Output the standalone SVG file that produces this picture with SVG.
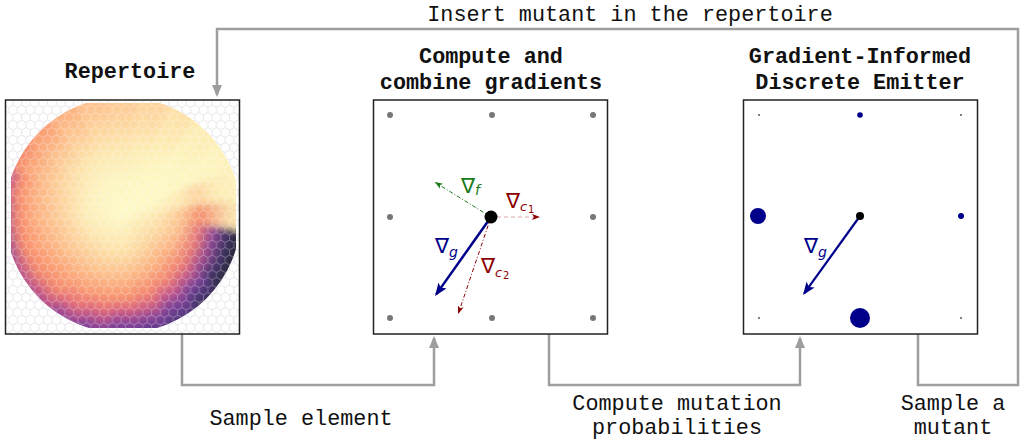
<svg xmlns="http://www.w3.org/2000/svg" width="1020" height="440" viewBox="0 0 1020 440">
<style>
.t{font-family:"Liberation Mono","DejaVu Sans Mono",monospace;font-size:21.8px;fill:#111;text-anchor:middle}
.b{font-weight:bold}
.box{fill:none;stroke:#222;stroke-width:1.5}
.conn{fill:none;stroke:#9e9e9e;stroke-width:2.5}
.gd{fill:#777}
.m{font-family:"DejaVu Sans",sans-serif}
.sub{font-family:"DejaVu Sans",sans-serif;font-style:italic}
</style>
<defs>
<marker id="ga" markerUnits="userSpaceOnUse" markerWidth="12" markerHeight="10" viewBox="0 0 12 10" refX="10" refY="5" orient="auto"><path d="M0,0 L12,5 L0,10 z" fill="#9e9e9e"/></marker>
<marker id="ba" markerUnits="userSpaceOnUse" markerWidth="13" markerHeight="10" viewBox="0 0 13 10" refX="11" refY="5" orient="auto"><path d="M0,0 L13,5 L0,10 L3,5 z" fill="#00008b"/></marker>
<marker id="na" markerUnits="userSpaceOnUse" markerWidth="8" markerHeight="6" viewBox="0 0 8 6" refX="7" refY="3" orient="auto"><path d="M0,0 L8,3 L0,6 L2,3 z" fill="#1a7a1a"/></marker>
<marker id="ra" markerUnits="userSpaceOnUse" markerWidth="8" markerHeight="6" viewBox="0 0 8 6" refX="7" refY="3" orient="auto"><path d="M0,0 L8,3 L0,6 L2,3 z" fill="#8b0000"/></marker>
<filter id="soft" x="-10%" y="-10%" width="120%" height="120%"><feGaussianBlur stdDeviation="3.5"/></filter>
<pattern id="hexG" patternUnits="userSpaceOnUse" width="8.66" height="15"><path d="M4.33,0 L8.66,2.5 L8.66,7.5 L4.33,10 L0,7.5 L0,2.5 Z M4.33,10 V15" fill="none" stroke="#e0e0e6" stroke-width="0.8"/></pattern>
<pattern id="hexW" patternUnits="userSpaceOnUse" width="8.66" height="15"><path d="M4.33,0 L8.66,2.5 L8.66,7.5 L4.33,10 L0,7.5 L0,2.5 Z M4.33,10 V15" fill="none" stroke="#ffffff" stroke-opacity="0.28" stroke-width="1"/></pattern>
<clipPath id="cBox"><rect x="11" y="103" width="225" height="225"/></clipPath>
<clipPath id="cDisc"><circle cx="123" cy="215" r="118"/></clipPath>
<radialGradient id="g0" gradientUnits="userSpaceOnUse" cx="123" cy="215" r="118"><stop offset="0" stop-color="#fdf9c8"/><stop offset=".3" stop-color="#fde6b0"/><stop offset=".5" stop-color="#fcc592"/><stop offset=".65" stop-color="#f4906f"/><stop offset=".75" stop-color="#f6ad87"/><stop offset=".9" stop-color="#f9dca8"/><stop offset="1" stop-color="#fbe6b2"/></radialGradient>
<radialGradient id="g1" gradientUnits="userSpaceOnUse" cx="123" cy="215" r="118"><stop offset="0" stop-color="#fdf9c8"/><stop offset=".3" stop-color="#fde0aa"/><stop offset=".5" stop-color="#fbbd8b"/><stop offset=".65" stop-color="#e87878"/><stop offset=".78" stop-color="#8f4896"/><stop offset=".9" stop-color="#3e3264"/><stop offset="1" stop-color="#2b2838"/></radialGradient>
<radialGradient id="g2" gradientUnits="userSpaceOnUse" cx="123" cy="215" r="118"><stop offset="0" stop-color="#fdf9c8"/><stop offset=".3" stop-color="#fcdba4"/><stop offset=".5" stop-color="#fbb385"/><stop offset=".65" stop-color="#ea7b75"/><stop offset=".77" stop-color="#a04d91"/><stop offset=".9" stop-color="#44346c"/><stop offset="1" stop-color="#2d2a3e"/></radialGradient>
<radialGradient id="g3" gradientUnits="userSpaceOnUse" cx="123" cy="215" r="118"><stop offset="0" stop-color="#fdf9c8"/><stop offset=".3" stop-color="#fcd7a0"/><stop offset=".5" stop-color="#fbad80"/><stop offset=".65" stop-color="#ef8173"/><stop offset=".75" stop-color="#c2598a"/><stop offset=".85" stop-color="#7a4398"/><stop offset=".95" stop-color="#4a3575"/><stop offset="1" stop-color="#3d3058"/></radialGradient>
<radialGradient id="g4" gradientUnits="userSpaceOnUse" cx="123" cy="215" r="118"><stop offset="0" stop-color="#fdf9c8"/><stop offset=".3" stop-color="#fcd9a2"/><stop offset=".5" stop-color="#fbb383"/><stop offset=".66" stop-color="#f28571"/><stop offset=".77" stop-color="#c8598a"/><stop offset=".88" stop-color="#7e4399"/><stop offset="1" stop-color="#55387f"/></radialGradient>
<radialGradient id="g5" gradientUnits="userSpaceOnUse" cx="123" cy="215" r="118"><stop offset="0" stop-color="#fdf9c8"/><stop offset=".3" stop-color="#fddda7"/><stop offset=".5" stop-color="#fbb987"/><stop offset=".68" stop-color="#f58c70"/><stop offset=".8" stop-color="#d46182"/><stop offset=".9" stop-color="#8a4598"/><stop offset="1" stop-color="#60398c"/></radialGradient>
<radialGradient id="g6" gradientUnits="userSpaceOnUse" cx="123" cy="215" r="118"><stop offset="0" stop-color="#fdf9c8"/><stop offset=".3" stop-color="#fde3ad"/><stop offset=".5" stop-color="#fcc08d"/><stop offset=".7" stop-color="#f7956f"/><stop offset=".79" stop-color="#e2697b"/><stop offset=".87" stop-color="#a84d90"/><stop offset=".95" stop-color="#7a409a"/><stop offset="1" stop-color="#6a3c96"/></radialGradient>
<radialGradient id="g7" gradientUnits="userSpaceOnUse" cx="123" cy="215" r="118"><stop offset="0" stop-color="#fdf9c8"/><stop offset=".3" stop-color="#fde3ad"/><stop offset=".5" stop-color="#fcc490"/><stop offset=".7" stop-color="#f99a72"/><stop offset=".82" stop-color="#e66e7a"/><stop offset=".91" stop-color="#b0508e"/><stop offset="1" stop-color="#7a4099"/></radialGradient>
<radialGradient id="g8" gradientUnits="userSpaceOnUse" cx="123" cy="215" r="118"><stop offset="0" stop-color="#fdf9c8"/><stop offset=".3" stop-color="#fde4ae"/><stop offset=".5" stop-color="#fcc692"/><stop offset=".7" stop-color="#faa077"/><stop offset=".84" stop-color="#ec7577"/><stop offset=".94" stop-color="#b8538c"/><stop offset="1" stop-color="#8e4596"/></radialGradient>
<radialGradient id="g9" gradientUnits="userSpaceOnUse" cx="123" cy="215" r="118"><stop offset="0" stop-color="#fdf9c8"/><stop offset=".3" stop-color="#fde4ae"/><stop offset=".5" stop-color="#fcc794"/><stop offset=".7" stop-color="#fba478"/><stop offset=".84" stop-color="#f38a70"/><stop offset=".94" stop-color="#d0607f"/><stop offset="1" stop-color="#b04f8f"/></radialGradient>
<radialGradient id="g10" gradientUnits="userSpaceOnUse" cx="123" cy="215" r="118"><stop offset="0" stop-color="#fdf9c8"/><stop offset=".3" stop-color="#fde8b2"/><stop offset=".5" stop-color="#fdcb97"/><stop offset=".7" stop-color="#fca97b"/><stop offset=".86" stop-color="#f68c6e"/><stop offset="1" stop-color="#b8528d"/></radialGradient>
<radialGradient id="g11" gradientUnits="userSpaceOnUse" cx="123" cy="215" r="118"><stop offset="0" stop-color="#fdf9c8"/><stop offset=".3" stop-color="#fdebb6"/><stop offset=".5" stop-color="#fdcd99"/><stop offset=".72" stop-color="#fcad7f"/><stop offset=".88" stop-color="#f88d6d"/><stop offset="1" stop-color="#a54f90"/></radialGradient>
<radialGradient id="g12" gradientUnits="userSpaceOnUse" cx="123" cy="215" r="118"><stop offset="0" stop-color="#fdf9c8"/><stop offset=".3" stop-color="#fdeebb"/><stop offset=".53" stop-color="#fdd09c"/><stop offset=".75" stop-color="#fcaf80"/><stop offset=".89" stop-color="#f7896d"/><stop offset="1" stop-color="#a0508f"/></radialGradient>
<radialGradient id="g13" gradientUnits="userSpaceOnUse" cx="123" cy="215" r="118"><stop offset="0" stop-color="#fdf9c8"/><stop offset=".3" stop-color="#fdf0bd"/><stop offset=".53" stop-color="#fdd5a0"/><stop offset=".75" stop-color="#fcb585"/><stop offset=".9" stop-color="#f9906e"/><stop offset="1" stop-color="#c45a86"/></radialGradient>
<radialGradient id="g14" gradientUnits="userSpaceOnUse" cx="123" cy="215" r="118"><stop offset="0" stop-color="#fdf9c8"/><stop offset=".3" stop-color="#fdf2bf"/><stop offset=".55" stop-color="#fddaa4"/><stop offset=".75" stop-color="#fcbd8b"/><stop offset=".92" stop-color="#faa076"/><stop offset="1" stop-color="#f4896e"/></radialGradient>
<radialGradient id="g15" gradientUnits="userSpaceOnUse" cx="123" cy="215" r="118"><stop offset="0" stop-color="#fdf9c8"/><stop offset=".3" stop-color="#fdf3c0"/><stop offset=".55" stop-color="#fde0aa"/><stop offset=".75" stop-color="#fcc592"/><stop offset=".92" stop-color="#fba97c"/><stop offset="1" stop-color="#fa9d74"/></radialGradient>
<radialGradient id="g16" gradientUnits="userSpaceOnUse" cx="123" cy="215" r="118"><stop offset="0" stop-color="#fdf9c8"/><stop offset=".3" stop-color="#fdf4c1"/><stop offset=".55" stop-color="#fde5ae"/><stop offset=".75" stop-color="#fdcd98"/><stop offset="1" stop-color="#fcb080"/></radialGradient>
<radialGradient id="g17" gradientUnits="userSpaceOnUse" cx="123" cy="215" r="118"><stop offset="0" stop-color="#fdf9c8"/><stop offset=".3" stop-color="#fdf5c1"/><stop offset=".55" stop-color="#fde8b2"/><stop offset=".76" stop-color="#fdd49e"/><stop offset="1" stop-color="#fdc08e"/></radialGradient>
<radialGradient id="g18" gradientUnits="userSpaceOnUse" cx="123" cy="215" r="118"><stop offset="0" stop-color="#fdf9c8"/><stop offset=".3" stop-color="#fdf5c0"/><stop offset=".55" stop-color="#fde8b2"/><stop offset=".76" stop-color="#fdd7a0"/><stop offset=".95" stop-color="#fdca95"/></radialGradient>
<radialGradient id="g19" gradientUnits="userSpaceOnUse" cx="123" cy="215" r="118"><stop offset="0" stop-color="#fdf9c8"/><stop offset=".3" stop-color="#fdf6c2"/><stop offset=".55" stop-color="#fdedb6"/><stop offset=".76" stop-color="#fddea8"/><stop offset="1" stop-color="#fdd29d"/></radialGradient>
<radialGradient id="g20" gradientUnits="userSpaceOnUse" cx="123" cy="215" r="118"><stop offset="0" stop-color="#fdf9c8"/><stop offset=".3" stop-color="#fdf7c3"/><stop offset=".55" stop-color="#fdf2bb"/><stop offset=".76" stop-color="#fde8b1"/><stop offset="1" stop-color="#fde0a9"/></radialGradient>
<radialGradient id="g21" gradientUnits="userSpaceOnUse" cx="123" cy="215" r="118"><stop offset="0" stop-color="#fdf9c8"/><stop offset=".3" stop-color="#fdf8c4"/><stop offset=".55" stop-color="#fdf6c2"/><stop offset=".76" stop-color="#fdf1ba"/><stop offset="1" stop-color="#fdecb5"/></radialGradient>
<radialGradient id="g22" gradientUnits="userSpaceOnUse" cx="123" cy="215" r="118"><stop offset="0" stop-color="#fdf9c8"/><stop offset=".3" stop-color="#fdf8c5"/><stop offset=".55" stop-color="#fdf6c2"/><stop offset=".8" stop-color="#fdf4bf"/><stop offset="1" stop-color="#fdf2bc"/></radialGradient>
<radialGradient id="g23" gradientUnits="userSpaceOnUse" cx="123" cy="215" r="118"><stop offset="0" stop-color="#fdf9c8"/><stop offset=".3" stop-color="#fdf3c0"/><stop offset=".5" stop-color="#fde8b2"/><stop offset=".65" stop-color="#fcd3a0"/><stop offset=".8" stop-color="#fdeab4"/><stop offset="1" stop-color="#fdf2bc"/></radialGradient>
</defs>
<rect width="1020" height="440" fill="#fff"/>

<g id="connectors">
<path class="conn" d="M918,334 V385 H1018 V29 H217 V95" marker-end="url(#ga)"/>
<path class="conn" d="M182,334 V385 H434 V338" marker-end="url(#ga)"/>
<path class="conn" d="M549,334 V385 H800 V338" marker-end="url(#ga)"/>
<text class="t" x="630" y="21">Insert mutant in the repertoire</text>
<text class="t" x="301" y="425">Sample element</text>
<text class="t" x="677" y="410">Compute mutation</text>
<text class="t" x="677" y="434">probabilities</text>
<text class="t" x="953" y="410">Sample a</text>
<text class="t" x="953" y="434">mutant</text>
</g>

<g id="repertoire">
<rect x="5.5" y="100" width="234" height="234" fill="#fff"/>
<rect x="6" y="101" width="233" height="232" fill="url(#hexG)"/>
<g clip-path="url(#cBox)"><g clip-path="url(#cDisc)">
<g filter="url(#soft)">
<polygon points="123,215 261.80,196.73 261.80,233.27" fill="url(#g0)" stroke="url(#g0)"/>
<polygon points="123,215 261.80,233.27 252.34,268.58" fill="url(#g1)" stroke="url(#g1)"/>
<polygon points="123,215 252.34,268.58 234.07,300.23" fill="url(#g2)" stroke="url(#g2)"/>
<polygon points="123,215 234.07,300.23 208.23,326.07" fill="url(#g3)" stroke="url(#g3)"/>
<polygon points="123,215 208.23,326.07 176.58,344.34" fill="url(#g4)" stroke="url(#g4)"/>
<polygon points="123,215 176.58,344.34 141.27,353.80" fill="url(#g5)" stroke="url(#g5)"/>
<polygon points="123,215 141.27,353.80 104.73,353.80" fill="url(#g6)" stroke="url(#g6)"/>
<polygon points="123,215 104.73,353.80 69.42,344.34" fill="url(#g7)" stroke="url(#g7)"/>
<polygon points="123,215 69.42,344.34 37.77,326.07" fill="url(#g8)" stroke="url(#g8)"/>
<polygon points="123,215 37.77,326.07 11.93,300.23" fill="url(#g9)" stroke="url(#g9)"/>
<polygon points="123,215 11.93,300.23 -6.34,268.58" fill="url(#g10)" stroke="url(#g10)"/>
<polygon points="123,215 -6.34,268.58 -15.80,233.27" fill="url(#g11)" stroke="url(#g11)"/>
<polygon points="123,215 -15.80,233.27 -15.80,196.73" fill="url(#g12)" stroke="url(#g12)"/>
<polygon points="123,215 -15.80,196.73 -6.34,161.42" fill="url(#g13)" stroke="url(#g13)"/>
<polygon points="123,215 -6.34,161.42 11.93,129.77" fill="url(#g14)" stroke="url(#g14)"/>
<polygon points="123,215 11.93,129.77 37.77,103.93" fill="url(#g15)" stroke="url(#g15)"/>
<polygon points="123,215 37.77,103.93 69.42,85.66" fill="url(#g16)" stroke="url(#g16)"/>
<polygon points="123,215 69.42,85.66 104.73,76.20" fill="url(#g17)" stroke="url(#g17)"/>
<polygon points="123,215 104.73,76.20 141.27,76.20" fill="url(#g18)" stroke="url(#g18)"/>
<polygon points="123,215 141.27,76.20 176.58,85.66" fill="url(#g19)" stroke="url(#g19)"/>
<polygon points="123,215 176.58,85.66 208.23,103.93" fill="url(#g20)" stroke="url(#g20)"/>
<polygon points="123,215 208.23,103.93 234.07,129.77" fill="url(#g21)" stroke="url(#g21)"/>
<polygon points="123,215 234.07,129.77 252.34,161.42" fill="url(#g22)" stroke="url(#g22)"/>
<polygon points="123,215 252.34,161.42 261.80,196.73" fill="url(#g23)" stroke="url(#g23)"/>
</g>
<rect x="0" y="90" width="250" height="250" fill="url(#hexW)"/>
</g></g>
<rect class="box" x="5.5" y="100" width="234" height="234"/>
<text class="t b" x="130" y="78">Repertoire</text>
</g>

<g id="gradients">
<rect x="373.5" y="100" width="234" height="234" fill="#fff"/>
<rect class="box" x="373.5" y="100" width="234" height="234"/>
<text class="t b" x="491" y="63">Compute and</text>
<text class="t b" x="491" y="89">combine gradients</text>
<circle class="gd" cx="390" cy="115" r="3"/><circle class="gd" cx="492" cy="115" r="3"/><circle class="gd" cx="593" cy="115" r="3"/>
<circle class="gd" cx="390" cy="217" r="3"/><circle class="gd" cx="593" cy="217" r="3"/>
<circle class="gd" cx="390" cy="318" r="3"/><circle class="gd" cx="492" cy="318" r="3"/><circle class="gd" cx="593" cy="318" r="3"/>
<line x1="491" y1="217" x2="435.6" y2="182.6" stroke="#1a7a1a" stroke-width="1" stroke-dasharray="4,2,1,2" marker-end="url(#na)"/>
<line x1="497" y1="217" x2="539" y2="217" stroke="#8b0000" stroke-opacity="0.35" stroke-width="1.2" stroke-dasharray="4,3" marker-end="url(#ra)"/>
<line x1="491" y1="217" x2="458.5" y2="313" stroke="#8b0000" stroke-width="1" stroke-dasharray="4,2,1,2" marker-end="url(#ra)"/>
<line x1="491" y1="217" x2="436.2" y2="294.4" stroke="#00008b" stroke-width="2.5" marker-end="url(#ba)"/>
<circle cx="491" cy="217" r="6.5" fill="#000"/>
<text class="m" x="461" y="193" font-size="21" fill="#1a7a1a">∇</text><text class="sub" x="475" y="195" font-size="14" fill="#1a7a1a">f</text>
<text class="m" x="506" y="208" font-size="21" fill="#8b0000">∇</text><text class="sub" x="520" y="211" font-size="13" fill="#8b0000">c</text><text class="m" x="528" y="213" font-size="10" fill="#8b0000">1</text>
<text class="m" x="481" y="273" font-size="21" fill="#8b0000">∇</text><text class="sub" x="495" y="277" font-size="13" fill="#8b0000">c</text><text class="m" x="503" y="279" font-size="10" fill="#8b0000">2</text>
<text class="m" x="435" y="253" font-size="21" fill="#00008b">∇</text><text class="sub" x="449" y="257" font-size="14" fill="#00008b">g</text>
</g>

<g id="emitter">
<rect x="743.5" y="100" width="234" height="234" fill="#fff"/>
<rect class="box" x="743.5" y="100" width="234" height="234"/>
<text class="t b" x="860" y="63">Gradient-Informed</text>
<text class="t b" x="860" y="89">Discrete Emitter</text>
<circle cx="759" cy="115" r="1" fill="#555"/><circle cx="860" cy="115" r="2.8" fill="#00008b"/><circle cx="961" cy="115" r="1" fill="#555"/>
<circle cx="758" cy="216" r="8" fill="#00008b"/><circle cx="961" cy="216" r="3" fill="#00008b"/>
<circle cx="759" cy="318" r="1" fill="#555"/><circle cx="860" cy="318" r="10" fill="#00008b"/><circle cx="961" cy="318" r="1" fill="#555"/>
<line x1="860" y1="216" x2="804.2" y2="293.4" stroke="#00008b" stroke-width="2.2" marker-end="url(#ba)"/>
<circle cx="860" cy="216" r="4" fill="#000"/>
<text class="m" x="804" y="253" font-size="21" fill="#00008b">∇</text><text class="sub" x="818" y="257" font-size="14" fill="#00008b">g</text>
</g>
</svg>
